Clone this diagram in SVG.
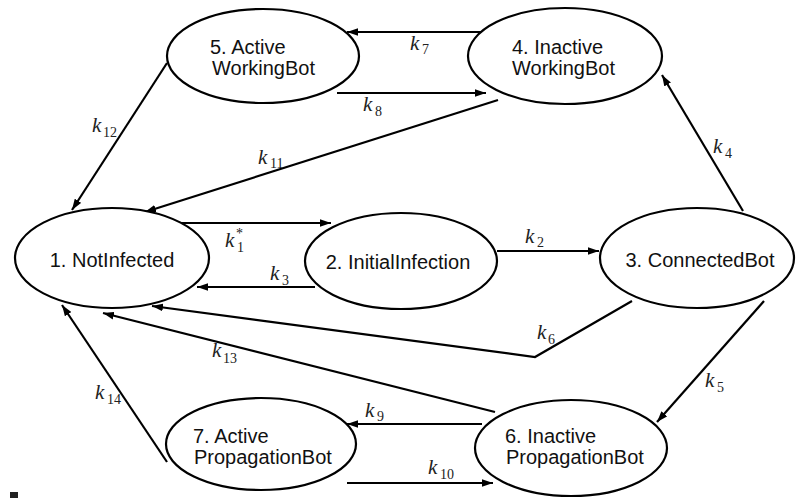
<svg xmlns="http://www.w3.org/2000/svg" width="799" height="498" viewBox="0 0 799 498">
<defs>
<marker id="ah" viewBox="0 0 10 7" refX="10" refY="3.5" markerWidth="11" markerHeight="8" markerUnits="userSpaceOnUse" orient="auto">
<path d="M0,0 L10,3.5 L0,7 z" fill="#000"/>
</marker>
<style>
.node ellipse{fill:#fff;stroke:#000;stroke-width:2.2}
.node text{font-family:"Liberation Sans",Arial,sans-serif;font-size:20px;fill:#111}
.edge{fill:none;stroke:#000;stroke-width:2.2}
.arr{marker-end:url(#ah)}
.lbl{font-family:"Liberation Serif","Times New Roman",serif;font-style:italic;font-size:21px;fill:#222}
.lbl tspan.s{font-style:normal;font-size:14px}
</style>
</defs>
<rect width="799" height="498" fill="#fff"/>

<g id="connectors">
<line class="edge arr" x1="484" y1="32" x2="347" y2="32"/>
<line class="edge arr" x1="337" y1="93" x2="486" y2="93"/>
<line class="edge arr" x1="498" y1="100" x2="145" y2="212"/>
<line class="edge arr" x1="167" y1="63" x2="72" y2="210"/>
<line class="edge arr" x1="180" y1="223" x2="331" y2="223"/>
<line class="edge arr" x1="315" y1="287" x2="197" y2="287"/>
<line class="edge arr" x1="497" y1="251" x2="599" y2="251"/>
<line class="edge arr" x1="743" y1="211" x2="662" y2="75"/>
<line class="edge arr" x1="764" y1="301" x2="657" y2="422"/>
<polyline class="edge arr" points="632,301 535,357 152,306"/>
<line class="edge arr" x1="495" y1="412" x2="103" y2="313"/>
<line class="edge arr" x1="167" y1="462" x2="62" y2="305"/>
<line class="edge arr" x1="482" y1="424" x2="347" y2="424"/>
<line class="edge arr" x1="347" y1="483" x2="493" y2="483"/>
</g>

<g id="labels">
<text class="lbl" x="410" y="50">k<tspan class="s" x="422" y="54">7</tspan></text>
<text class="lbl" x="363" y="111">k<tspan class="s" x="375" y="116">8</tspan></text>
<text class="lbl" x="258" y="164">k<tspan class="s" x="270" y="168">11</tspan></text>
<text class="lbl" x="92" y="132">k<tspan class="s" x="103" y="137">12</tspan></text>
<text class="lbl" x="225" y="247">k<tspan class="s" x="236" y="238">*</tspan><tspan class="s" x="237" y="252">1</tspan></text>
<text class="lbl" x="270" y="280">k<tspan class="s" x="282" y="285">3</tspan></text>
<text class="lbl" x="525" y="243">k<tspan class="s" x="537" y="247">2</tspan></text>
<text class="lbl" x="713" y="153">k<tspan class="s" x="725" y="158">4</tspan></text>
<text class="lbl" x="705" y="387">k<tspan class="s" x="717" y="392">5</tspan></text>
<text class="lbl" x="537" y="339">k<tspan class="s" x="548" y="344">6</tspan></text>
<text class="lbl" x="212" y="357">k<tspan class="s" x="223" y="363">13</tspan></text>
<text class="lbl" x="95" y="399">k<tspan class="s" x="107" y="404">14</tspan></text>
<text class="lbl" x="365" y="417">k<tspan class="s" x="377" y="421">9</tspan></text>
<text class="lbl" x="428" y="474">k<tspan class="s" x="440" y="479">10</tspan></text>
</g>

<g id="n1" class="node">
<ellipse cx="112" cy="258" rx="97" ry="50"/>
<text x="112" y="267" text-anchor="middle">1. NotInfected</text>
</g>
<g id="n2" class="node">
<ellipse cx="401" cy="261" rx="96" ry="48"/>
<text x="398" y="269" text-anchor="middle">2. InitialInfection</text>
</g>
<g id="n3" class="node">
<ellipse cx="697" cy="258" rx="97" ry="50"/>
<text x="700" y="267" text-anchor="middle">3. ConnectedBot</text>
</g>
<g id="n4" class="node">
<ellipse cx="565" cy="56" rx="97" ry="48"/>
<text x="512" y="54">4. Inactive</text>
<text x="512" y="75">WorkingBot</text>
</g>
<g id="n5" class="node">
<ellipse cx="263" cy="56" rx="96" ry="47"/>
<text x="210" y="54">5. Active</text>
<text x="212" y="75">WorkingBot</text>
</g>
<g id="n6" class="node">
<ellipse cx="571" cy="448" rx="96" ry="48"/>
<text x="505" y="443">6. Inactive</text>
<text x="506" y="464">PropagationBot</text>
</g>
<g id="n7" class="node">
<ellipse cx="261" cy="444" rx="95" ry="46"/>
<text x="193" y="443">7. Active</text>
<text x="194" y="464">PropagationBot</text>
</g>
<rect x="10" y="492" width="8" height="6" fill="#222"/>
</svg>
